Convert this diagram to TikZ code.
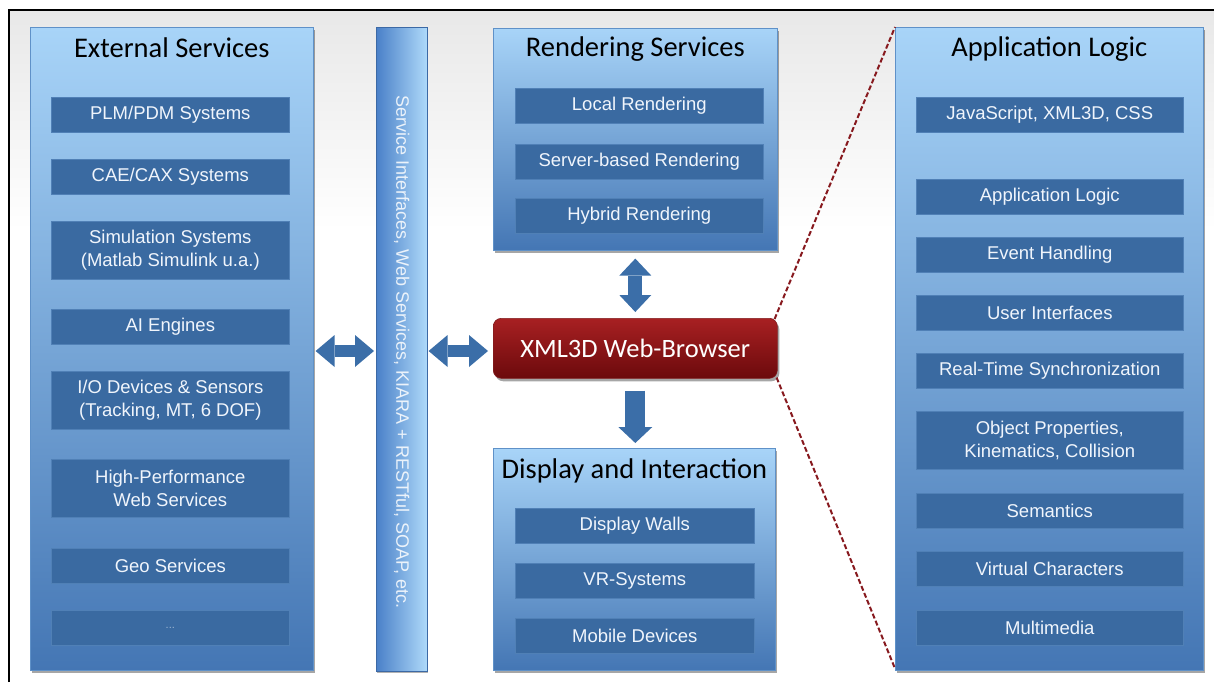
\documentclass[tikz,border=0pt]{standalone}
\usepackage{fontspec}
\setmainfont{Liberation Sans}
\newfontfamily\titlefont{Carlito}
\usetikzlibrary{arrows.meta,shadows}
\definecolor{panelTop}{RGB}{168,212,248}
\definecolor{panelBot}{RGB}{68,118,180}
\definecolor{panelEdge}{RGB}{95,145,200}
\definecolor{itemc}{RGB}{58,106,161}
\definecolor{itemedge}{RGB}{80,128,182}
\definecolor{arrowc}{RGB}{59,110,168}
\definecolor{barL}{RGB}{74,128,200}
\definecolor{barR}{RGB}{175,218,250}
\definecolor{barEdge}{RGB}{60,105,165}
\definecolor{brTop}{RGB}{168,32,34}
\definecolor{brBot}{RGB}{108,10,12}
\definecolor{brEdge}{RGB}{130,30,32}
\definecolor{dashc}{RGB}{135,25,30}
\definecolor{itemtext}{RGB}{240,245,252}
\tikzset{
  panel/.style={rectangle, inner sep=0pt, anchor=north west,
    top color=panelTop, bottom color=panelBot, draw=panelEdge, line width=0.6pt,
    drop shadow={opacity=0.35, shadow xshift=2pt, shadow yshift=-3pt, fill=black}},
  ptitle/.style={anchor=base, inner sep=0pt, font=\titlefont\fontsize{28.5}{30}\selectfont, text=black},
  item/.style={rectangle, inner sep=0pt, anchor=north west, fill=itemc, draw=itemedge,
    line width=0.6pt, text=itemtext, align=center, minimum height=35pt,
    font=\fontsize{18.5}{22.5}\selectfont},
  item2/.style={item, minimum height=58pt},
  itemE/.style={minimum width=238pt},
  itemR/.style={minimum width=248pt},
  itemD/.style={minimum width=239pt},
  itemA/.style={minimum width=267pt},
  fatdbl/.style={draw=arrowc, line width=12pt,
    arrows={Triangle[width=32pt,length=19pt,line width=0pt,fill=arrowc]-Triangle[width=32pt,length=19pt,line width=0pt,fill=arrowc]}},
  fatvdbl/.style={draw=arrowc, line width=14pt,
    arrows={Triangle[width=32pt,length=17pt,line width=0pt,fill=arrowc]-Triangle[width=32pt,length=17pt,line width=0pt,fill=arrowc]}},
  fatsgl/.style={draw=arrowc, line width=20pt,
    arrows={-Triangle[width=34pt,length=16pt,line width=0pt,fill=arrowc]}},
  zoomline/.style={draw=dashc, line width=2pt, dash pattern=on 5pt off 2.5pt}
}
\begin{document}
\begin{tikzpicture}[x=1pt,y=-1pt]
\useasboundingbox (0,0) rectangle (1214,682);
% background
\fill[top color=black!9, bottom color=white] (10,11) rectangle (1214,230);
\draw[line width=2pt] (9,682) -- (9,10) -- (1214,10);

% External Services
\node[panel, minimum width=283pt, minimum height=643pt] (ext) at (30,27) {};
\node[ptitle] (extT) at ([yshift=-31pt]ext.north) {External Services};
\node[item,itemE] (e1) at (51,97) {PLM/PDM Systems};
\node[item,itemE] (e2) at (51,159) {CAE/CAX Systems};
\node[item2,itemE] (e3) at (51,221) {Simulation Systems\\(Matlab Simulink u.a.)};
\node[item,itemE] (e4) at (51,309) {AI Engines};
\node[item2,itemE] (e5) at (51,371) {I/O Devices \& Sensors\\(Tracking, MT, 6 DOF)};
\node[item2,itemE] (e6) at (51,459) {High-Performance\\Web Services};
\node[item,itemE] (e7) at (51,548) {Geo Services};
\node[item,itemE,font=\fontsize{11}{12}\selectfont, text=itemtext!55!itemc] (e8) at (51,610) {...};

% Service bar
\node[rectangle, inner sep=0pt, anchor=north west, minimum width=51pt, minimum height=644pt,
  left color=barL, right color=barR, draw=barEdge, line width=0.6pt,
  drop shadow={opacity=0.3, shadow xshift=1pt, shadow yshift=-2pt, fill=black}] (bar) at (376,27) {};
\node[rotate=-90, text=white, opacity=0.85, font=\fontsize{18}{20}\selectfont, inner sep=0pt]
  (barT) at ([yshift=-3pt]bar.center) {Service Interfaces, Web Services, KIARA + RESTful, SOAP, etc.};

% Rendering Services
\node[panel, minimum width=284pt, minimum height=222pt] (rend) at (493,28) {};
\node[ptitle] (rendT) at ([yshift=-29pt]rend.north) {Rendering Services};
\node[item,itemR] (r1) at (515,88) {Local Rendering};
\node[item,itemR] (r2) at (515,144) {Server-based Rendering};
\node[item,itemR] (r3) at (515,198) {Hybrid Rendering};

% Browser
\node[rectangle, rounded corners=8pt, anchor=north west, minimum width=284pt, minimum height=60pt,
  top color=brTop, bottom color=brBot, draw=brEdge, line width=0.6pt, inner sep=0pt,
  text=white, font=\titlefont\fontsize{26.5}{28}\selectfont,
  drop shadow={opacity=0.35, shadow xshift=2pt, shadow yshift=-3pt, fill=black}] (br) at (493,318) {XML3D Web-Browser};

% Display and Interaction
\node[panel, minimum width=282pt, minimum height=222pt] (disp) at (493,448) {};
\node[ptitle] (dispT) at ([yshift=-30pt]disp.north) {Display and Interaction};
\node[item,itemD] (d1) at (515,508) {Display Walls};
\node[item,itemD] (d2) at (515,563) {VR-Systems};
\node[item,itemD] (d3) at (515,618) {Mobile Devices};

% Application Logic
\node[panel, minimum width=308pt, minimum height=643pt] (app) at (895,27) {};
\node[ptitle] (appT) at ([yshift=-30pt]app.north) {Application Logic};
\node[item,itemA] (a1) at (916,97) {JavaScript, XML3D, CSS};
\node[item,itemA] (a2) at (916,179) {Application Logic};
\node[item,itemA] (a3) at (916,237) {Event Handling};
\node[item,itemA] (a4) at (916,295) {User Interfaces};
\node[item,itemA] (a5) at (916,353) {Real-Time Synchronization};
\node[item2,itemA] (a6) at (916,411) {Object Properties,\\Kinematics, Collision};
\node[item,itemA] (a7) at (916,493) {Semantics};
\node[item,itemA] (a8) at (916,551) {Virtual Characters};
\node[item,itemA] (a9) at (916,610) {Multimedia};

% arrows
\coordinate (ay) at (0,351);
\draw[fatdbl, shorten <=2pt, shorten >=2pt] (ext.east |- ay) -- (bar.west |- ay);
\draw[fatdbl, shorten <=1pt, shorten >=5pt] (bar.east |- ay) -- (br.west |- ay);
\draw[fatvdbl, shorten <=8pt, shorten >=6pt] (rend.south -| br.center) -- (br.north);
\draw[fatsgl, shorten <=12pt, shorten >=5pt] (br.south) -- (disp.north -| br.center);

% zoom lines
\draw[zoomline] ([xshift=-3pt,yshift=-1pt]br.north east) -- (app.north west);
\draw[zoomline] ([xshift=-1pt,yshift=1pt]br.south east) -- ([yshift=2pt]app.south west);
\end{tikzpicture}
\end{document}
